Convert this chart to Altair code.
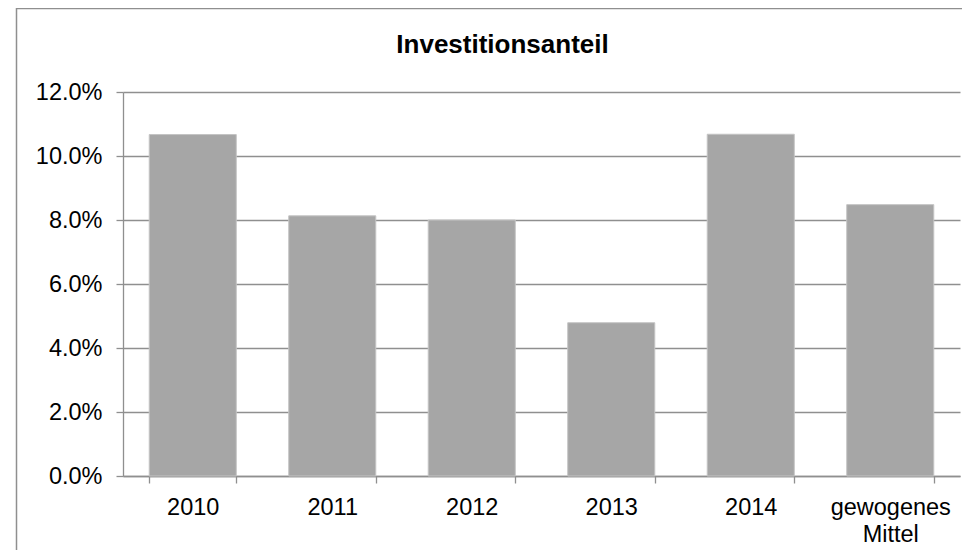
import altair as alt
import pandas as pd

categories = ["2010", "2011", "2012", "2013", "2014", "gewogenes Mittel"]
values = [0.1067, 0.0813, 0.0800, 0.0479, 0.1068, 0.0848]

df = pd.DataFrame({"Kategorie": categories, "Anteil": values})

FONT = "Liberation Sans"
GRID = "#8f8f8f"

bars = alt.Chart(df).mark_bar(
    color="#a6a6a6", stroke="#c4c4c4", strokeWidth=1
).encode(
    x=alt.X(
        "Kategorie:N",
        sort=categories,
        title=None,
        scale=alt.Scale(paddingInner=0.376, paddingOuter=0.188),
        axis=alt.Axis(
            labelAngle=0,
            tickBand="extent",
            tickSize=7,
            tickColor=GRID,
            tickWidth=1.3,
            domainColor=GRID,
            domainWidth=1.3,
            labelPadding=12,
            labelFontSize=23.5,
            labelFont=FONT,
            labelColor="#000000",
            labelLineHeight=27,
            labelExpr="datum.value == 'gewogenes Mittel' ? ['gewogenes', 'Mittel'] : datum.label",
        ),
    ),
    y=alt.Y(
        "Anteil:Q",
        title=None,
        scale=alt.Scale(domain=[0, 0.12], nice=False),
        axis=alt.Axis(
            values=[0, 0.02, 0.04, 0.06, 0.08, 0.10, 0.12],
            format=".1%",
            tickSize=7,
            tickColor=GRID,
            tickWidth=1.3,
            domainColor=GRID,
            domainWidth=1.3,
            gridColor=GRID,
            gridWidth=1.3,
            labelPadding=14,
            labelFontSize=23.5,
            labelFont=FONT,
            labelColor="#000000",
        ),
    ),
)

frame = alt.Chart(alt.Data(values=[{}])).mark_rect(
    fill="transparent", stroke="#8f8f8f", strokeWidth=1.5
).encode(
    x=alt.value(-106.5),
    y=alt.value(-83.5),
    x2=alt.value(900),
    y2=alt.value(520),
)

chart = alt.layer(frame, bars).properties(
    width=837,
    height=384,
    autosize=alt.AutoSizeParams(type="none"),
    padding={"left": 115, "top": 84, "right": 2, "bottom": 74},
    title=alt.TitleParams(
        "Investitionsanteil",
        font=FONT,
        fontSize=26,
        fontWeight="bold",
        color="#000000",
        anchor="middle",
        baseline="alphabetic",
        offset=-71,
        dx=-39,
    ),
).configure_view(stroke=None)

chart.save("out.html", embed_options={"renderer": "svg", "actions": False})
